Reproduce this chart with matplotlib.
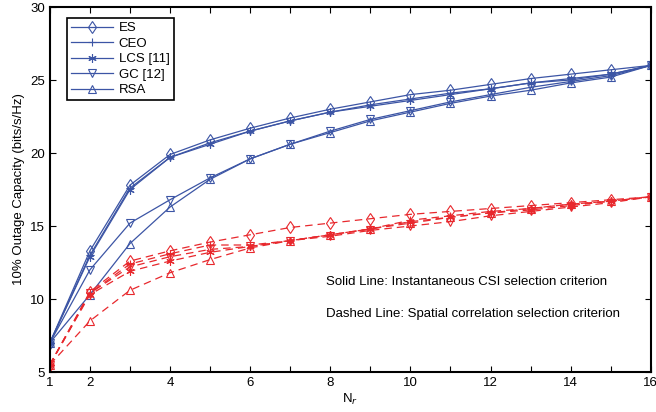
import matplotlib
matplotlib.use("Agg")
import matplotlib.pyplot as plt

plt.rcParams['font.family'] = ['Liberation Sans', 'DejaVu Sans']

# number of receive antennas
nr = list(range(1, 17))

# instantaneous CSI selection (solid)
es_inst = [7.0, 13.3, 17.8, 19.9, 20.9, 21.7, 22.4, 23.0, 23.5, 24.0, 24.3, 24.7, 25.1, 25.4, 25.7, 26.0]
ceo_inst = [7.0, 13.0, 17.6, 19.7, 20.7, 21.5, 22.2, 22.8, 23.3, 23.7, 24.1, 24.4, 24.8, 25.1, 25.4, 26.0]
lcs_inst = [7.0, 12.9, 17.5, 19.7, 20.6, 21.5, 22.2, 22.8, 23.2, 23.6, 24.0, 24.4, 24.8, 25.0, 25.4, 26.0]
gc_inst = [7.0, 12.0, 15.2, 16.8, 18.3, 19.6, 20.6, 21.5, 22.3, 22.9, 23.5, 24.0, 24.5, 24.9, 25.3, 26.0]
rsa_inst = [7.0, 10.3, 13.8, 16.3, 18.2, 19.6, 20.6, 21.4, 22.2, 22.8, 23.4, 23.9, 24.3, 24.8, 25.2, 26.0]

# spatial correlation selection (dashed)
es_corr = [5.5, 10.5, 12.6, 13.3, 13.9, 14.4, 14.9, 15.2, 15.5, 15.8, 16.0, 16.2, 16.4, 16.6, 16.8, 17.0]
ceo_corr = [5.5, 10.4, 12.4, 13.1, 13.7, 13.7, 14.0, 14.4, 14.8, 15.4, 15.7, 16.0, 16.2, 16.5, 16.7, 17.0]
lcs_corr = [5.5, 10.3, 11.9, 12.6, 13.2, 13.6, 14.0, 14.4, 14.8, 15.3, 15.6, 15.9, 16.1, 16.4, 16.7, 17.0]
gc_corr = [5.5, 10.4, 12.2, 12.9, 13.4, 13.6, 14.0, 14.3, 14.7, 15.0, 15.3, 15.7, 16.0, 16.3, 16.6, 17.0]
rsa_corr = [5.5, 8.5, 10.6, 11.8, 12.7, 13.5, 14.0, 14.4, 14.8, 15.2, 15.6, 15.9, 16.2, 16.5, 16.7, 17.0]

labels = ["ES", "CEO", "LCS [11]", "GC [12]", "RSA"]
markers = ["d", "+", (6, 2, 0), "v", "^"]

blue = "#3c55a5"
red = "#e8282d"

fig = plt.figure(figsize=(6.56, 4.12), dpi=100)
ax = fig.add_axes([0.076, 0.097, 0.916, 0.886])

inst = [es_inst, ceo_inst, lcs_inst, gc_inst, rsa_inst]
corr = [es_corr, ceo_corr, lcs_corr, gc_corr, rsa_corr]

for i in range(5):
    ax.plot(nr, inst[i], color=blue, linestyle="-", linewidth=0.9,
            marker=markers[i], markersize=6, markerfacecolor="none",
            markeredgewidth=0.8, label=labels[i])
for i in range(5):
    ax.plot(nr, corr[i], color=red, linestyle=(0, (6, 4)), linewidth=0.9,
            marker=markers[i], markersize=6, markerfacecolor="none",
            markeredgewidth=0.8)

ax.set_xlim(1, 16)
ax.set_ylim(5, 30)
ax.set_xticks(nr)
ax.set_xticklabels([str(n) if (n == 1 or n % 2 == 0) else "" for n in nr])
ax.set_yticks([5, 10, 15, 20, 25, 30])
ax.tick_params(direction="in", top=True, right=True, labelsize=9.5, length=4, width=0.8)
for s in ax.spines.values():
    s.set_linewidth(1.5)

ax.set_xlabel("N$_r$", fontsize=9.5, labelpad=2)
ax.set_ylabel("10% Outage Capacity (bits/s/Hz)", fontsize=9.5, labelpad=4)

ax.text(7.9, 11.2, "Solid Line: Instantaneous CSI selection criterion", fontsize=9.5, va="center")
ax.text(7.9, 9.0, "Dashed Line: Spatial correlation selection criterion", fontsize=9.5, va="center")

leg = ax.legend(loc="upper left", fontsize=9.5, handlelength=3.2, fancybox=False,
                edgecolor="black", framealpha=1, borderpad=0.3, labelspacing=0.25,
                handletextpad=0.4, bbox_to_anchor=(0.018, 0.988))
leg.get_frame().set_linewidth(1.2)

fig.savefig("out.png", dpi=100)
